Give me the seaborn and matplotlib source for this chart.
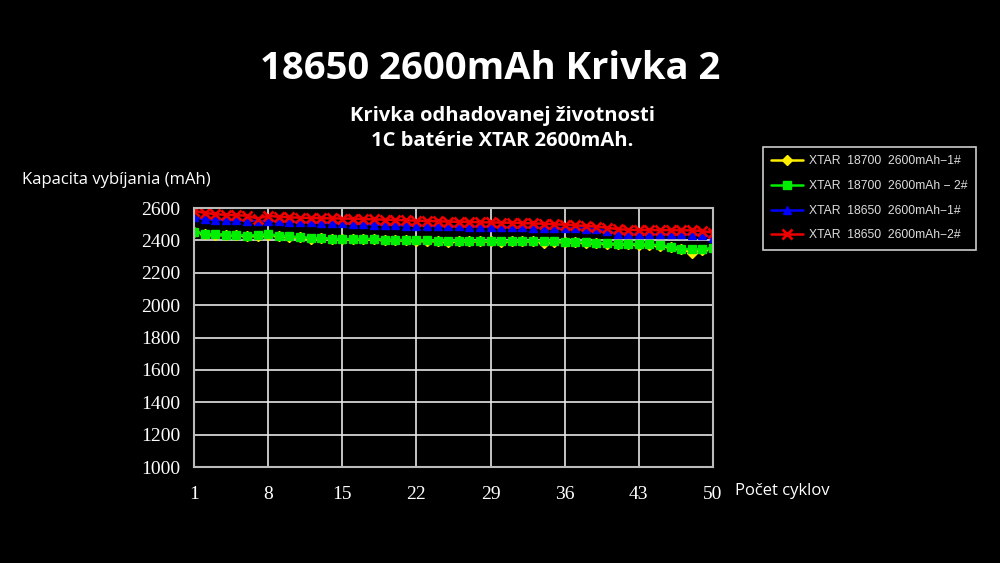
import pandas as pd
import matplotlib
matplotlib.use('Agg')
import matplotlib.pyplot as plt
import seaborn as sns

cycles = list(range(1, 51))
x_ticks = [1, 8, 15, 22, 29, 36, 43, 50]
y_ticks = [1000, 1200, 1400, 1600, 1800, 2000, 2200, 2400, 2600]

# 18700 cell #1 (yellow)
xtar_18700_1 = [2452, 2440, 2436, 2434, 2432, 2428, 2430, 2436, 2428, 2418,
                2418, 2410, 2412, 2409, 2406, 2406, 2408, 2406, 2403, 2401,
                2400, 2398, 2398, 2397, 2388, 2396, 2395, 2395, 2394, 2393,
                2394, 2395, 2394, 2386, 2392, 2391, 2390, 2386, 2383, 2380,
                2376, 2375, 2374, 2373, 2366, 2358, 2345, 2325, 2340, 2350]
# 18700 cell #2 (green)
xtar_18700_2 = [2454, 2440, 2437, 2435, 2433, 2430, 2432, 2438, 2430, 2425,
                2420, 2416, 2413, 2410, 2408, 2408, 2410, 2408, 2405, 2403,
                2402, 2400, 2400, 2399, 2398, 2398, 2397, 2397, 2396, 2395,
                2396, 2397, 2396, 2395, 2394, 2393, 2392, 2388, 2385, 2382,
                2378, 2377, 2376, 2375, 2370, 2360, 2348, 2345, 2347, 2350]
# 18650 cell #1 (blue)
xtar_18650_1 = [2542, 2530, 2527, 2525, 2523, 2522, 2520, 2519, 2517, 2515,
                2513, 2511, 2509, 2507, 2505, 2503, 2500, 2498, 2496, 2494,
                2492, 2490, 2489, 2488, 2487, 2486, 2485, 2484, 2483, 2482,
                2481, 2480, 2479, 2477, 2476, 2475, 2474, 2473, 2470, 2455,
                2442, 2440, 2439, 2438, 2438, 2437, 2437, 2436, 2435, 2414]
# 18650 cell #2 (red)
xtar_18650_2 = [2583, 2570, 2562, 2558, 2555, 2553, 2535, 2552, 2546, 2543,
                2540, 2538, 2537, 2536, 2535, 2534, 2532, 2530, 2528, 2526,
                2524, 2522, 2520, 2518, 2516, 2515, 2514, 2512, 2511, 2510,
                2509, 2507, 2505, 2503, 2500, 2497, 2493, 2489, 2485, 2478,
                2470, 2465, 2464, 2464, 2463, 2463, 2462, 2462, 2458, 2447]

labels = ["XTAR  18700  2600mAh\u22121#", "XTAR  18700  2600mAh \u2212 2#",
          "XTAR  18650  2600mAh\u22121#", "XTAR  18650  2600mAh\u22122#"]
colors = ["#ffee00", "#00ee00", "#0000ff", "#ee0000"]
markers = ["D", "s", "^", "x"]
msizes = [5, 6, 6, 6.5]
medges = [1.0, 1.0, 1.0, 2.0]

sns.set_style("dark")
plt.rcParams['font.family'] = ['Open Sans', 'DejaVu Sans']

fig = plt.figure(figsize=(10, 5.63), dpi=100, facecolor="black")
ax = fig.add_axes([0.194, 0.1705, 0.519, 0.460])
ax.set_facecolor("black")

series = [xtar_18700_1, xtar_18700_2, xtar_18650_1, xtar_18650_2]
for vals, lab, col, mk, ms, mew in zip(series, labels, colors, markers, msizes, medges):
    df = pd.DataFrame({"cycle": cycles, "mah": vals})
    sns.lineplot(data=df, x="cycle", y="mah", ax=ax, color=col, marker=mk,
                 markersize=ms, markeredgecolor=col, markeredgewidth=mew,
                 linewidth=1.8, label=lab, legend=False)

ax.set_xlim(1, 50)
ax.set_ylim(1000, 2600)
ax.set_xticks(x_ticks)
ax.set_yticks(y_ticks)
ax.set_xticklabels([str(t) for t in x_ticks], family="Liberation Serif", fontsize=14, color="white")
ax.set_yticklabels([str(t) for t in y_ticks], family="Liberation Serif", fontsize=14, color="white")
ax.tick_params(axis="y", length=0, pad=10)
ax.tick_params(axis="x", length=0, pad=14)
ax.grid(True, color="#e6e6e6", linewidth=1.2)
for s in ax.spines.values():
    s.set_visible(True)
    s.set_color("#bbbbbb")
    s.set_linewidth(1.5)
ax.set_xlabel("")
ax.set_ylabel("")

fig.text(0.49, 0.878, "18650 2600mAh Krivka 2", ha="center", va="center",
         fontsize=27.5, fontweight="bold", color="white")
fig.text(0.502, 0.772, "Krivka odhadovanej životnosti\n1C batérie XTAR 2600mAh.",
         ha="center", va="center", fontsize=14.5, fontweight="bold", color="white",
         linespacing=1.35)
fig.text(0.022, 0.68, "Kapacita vybíjania (mAh)", ha="left", va="center",
         fontsize=12, color="white")
fig.text(0.735, 0.128, "Počet cyklov", ha="left", va="center",
         fontsize=12, color="white")

handles, labs = ax.get_legend_handles_labels()
leg = fig.legend(handles, labs, loc="upper left", bbox_to_anchor=(0.763, 0.739),
                 borderaxespad=0, frameon=True, fancybox=False, facecolor="black",
                 edgecolor="white", labelcolor="#dddddd", handlelength=2.6,
                 borderpad=0.7, labelspacing=1.05, handletextpad=0.5,
                 prop={"family": "Liberation Sans", "size": 8.7})
leg.get_frame().set_linewidth(1.2)

fig.savefig("out.png", dpi=100, facecolor="black")
